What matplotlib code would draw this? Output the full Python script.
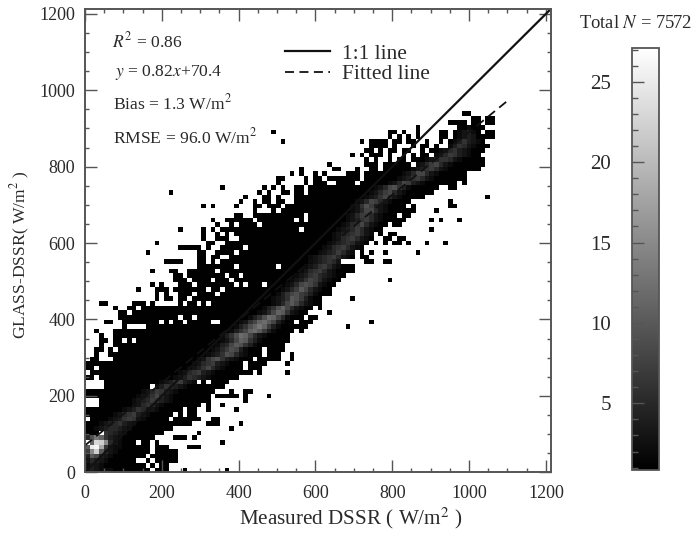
import numpy as np
import matplotlib
matplotlib.use("Agg")
import matplotlib.pyplot as plt
from matplotlib.ticker import MultipleLocator

plt.rcParams['font.family'] = ['Liberation Serif', 'DejaVu Serif']
plt.rcParams['mathtext.fontset'] = 'stix'

N_BINS = 100
BIN_WIDTH = 12.12
# occupied bins, bottom row first (column ranges)
OCCUPIED = """0-13,15-17,21,30
0-12,14,16-17
0-10,13,15-19
0-12,14-19
0-13,15-19
0-13,15-17,22-24
1-10,12-13,15,29
0-14,19-21,23
0-2,4-16,24
0-18,31
0-22,26-28,33
1-17,19-24,27-28
0-18,20,22-23
0-20,22-23,26,32
3-24,26,29
3-26,34
0-26,28-32,34,39
0-27,31,34-35
4-13,15-29
4-23,25,27-30
0-1,3-32
1-35,37,43
0-1,3-33,35-37
0-33,35-38,43
1-2,6-35,37-41,44
2,5-37,39-41,44
2-3,5,7-37,39-42
3,6-42
3-4,6-7,9,11-43
3,6-43
2,6-44,46
8,13-47,56
4-5,8-15,17,19-20,22-26,29-44,46-48,61
7-19,21-22,24-46,48-49
7-8,10-47,52
6,9-10,12-48,50
3-4,10-12,14,20,22-23,25,27-50
15,17-18,20-21,23-50,57
15,17,20-22,24-27,29-52
11,15-17,19-25,27-28,30-52
14,16,20-22,24-31,33,35-37,39-53
19-21,23-26,28-30,32-54,65
19-20,22-29,31-32,34-55
14,18-19,22-27,29-57
24-31,33-40,42-57
17-20,24-25,27,29-54,60-61,64-65
24-25,27-28,31-57,59-60
13,24-25,28-31,33-57,59,61,64,71
20-24,26,29-33,35-59
15,26-27,30-60,62,64,66-67,69,73,77
25,28-30,33-61,64-65,67-68
25,28,30,32-61,63,65-66
20,25,27,29-45,47-63,74
28,31,33-36,38-64,66-67
27,30-35,37-44,46,48-68,74,76,80
32-33,36-46,48-66,68-69
36,40,42-70,75
25,27,32,36-37,39-41,43-68,70,78-79
33,36,38-39,41-42,45-69,78
34,38-39,41,45-72,86
18,37,39,42-43,45-46,48-74
29,38,40,42,45-46,48-75,78-79
41,47,49-51,54-57,59-79,81
41-42,47,49-50,52-58,60-81
44,46,49,51,56-58,60-81
46,53-54,58,61-62,64-84
52,60-62,64-69,71-85
60,62,65,67-68,70-85
57,59,61-63,65,68,70,72-73,75-84
60-61,63,65-66,68-69,72,74-85
61-64,66,70,72-73,75,78-86
42,59,61-64,66-67,69-70,73,76,78-85
65,67,69,71,76-77,79-87
40,65-66,68,71,76-77,79-84,86-87
71,80-85
78-81,83-84,86-87
83-84,86-87
81-82""".split("\n")

# denser ridge counts read from the grey level: (first column, base-36 counts), bottom row first
RIDGE = [
 (0,"34322211"),(0,"24321"),(0,"3543211"),(0,"4a8432"),(0,"7fma5321"),(0,"apqi6322"),
 (1,"bnmf5321"),(0,"59db6432"),(4,"654321"),(2,"2345543211"),(3,"234564321"),(5,"2346763211"),
 (6,"235674321"),(8,"234653321"),(10,"2356532"),(10,"2345764321"),(11,"2346853211"),(12,"2357643211"),
 (15,"24654321"),(16,"2346743211"),(19,"2346543211"),(20,"2356743211"),(22,"2346853211"),(23,"2356743211"),
 (24,"2368964321"),(26,"2346985321"),(27,"235798421"),(28,"2458a96421"),(29,"2358ba6421"),(29,"2469cb85321"),
 (31,"2468bca7421"),(32,"2469bdb7421"),(33,"2368bca8421"),(35,"2469cb8521"),(37,"2358ba6321"),(38,"2469b85321"),
 (40,"2358a85321"),(40,"2346a97421"),(41,"2468976421"),(42,"2357a85321"),(43,"2358986321"),(44,"2346875321"),
 (45,"2346754321"),(46,"235675321"),(47,"234675321"),(48,"234565321"),(48,"2345675321"),(50,"234575321"),
 (51,"235675321"),(52,"234565321"),(53,"235675321"),(53,"2345675321"),(54,"234575321"),(55,"235685321"),
 (56,"234675321"),(56,"235775321"),(57,"235885321"),(57,"236974321"),(58,"235875321"),(60,"234685321"),
 (61,"235785321"),(62,"235896421"),(65,"235874321"),(67,"234675321"),(68,"235885321"),(70,"234675321"),
 (71,"235785321"),(73,"234665321"),(75,"235764321"),(76,"23564321"),(78,"2465321"),(79,"2464321"),
 (80,"23431"),(80,"2342"),(81,"121"),
]

LINE_1TO1_X = [0, 1212]
LINE_1TO1_Y = [0, 1212]
FIT_X = [0, 1100]
FIT_Y = [70.4, 972.4]
STATS = [r"$R^2$ = 0.86", r"$y$ = 0.82$x$+70.4", "Bias = 1.3 W/m$^2$", "RMSE = 96.0 W/m$^2$"]
XTICKS = [0, 200, 400, 600, 800, 1000, 1200]
CBAR_TICKS = [5, 10, 15, 20, 25]

counts = np.full((N_BINS, N_BINS), np.nan)
for j, line in enumerate(OCCUPIED):
    for part in line.split(","):
        a, _, b = part.partition("-")
        counts[j, int(a):int(b or a) + 1] = 1
for j, (start, vals) in enumerate(RIDGE):
    for k, c in enumerate(vals):
        if not np.isnan(counts[j, start + k]):
            counts[j, start + k] = int(c, 36)
edges = np.arange(N_BINS + 1) * BIN_WIDTH

W, H = 693, 534
fig = plt.figure(figsize=(W / 100, H / 100), dpi=100)
ax = fig.add_axes([85 / W, 1 - 472.3 / H, 465.5 / W, 463 / H])
cmap = plt.get_cmap('gray').copy()
cmap.set_bad('white')
mesh = ax.pcolormesh(edges, edges, np.ma.masked_invalid(counts), cmap=cmap, vmin=0.85, vmax=27.1)

c_txt = '#2a2a2a'
c_ax = '#555555'
ax.plot(LINE_1TO1_X, LINE_1TO1_Y, color='#111111', lw=1.6, label='1:1 line')
ax.plot(FIT_X, FIT_Y, color='#111111', lw=1.3, dashes=(5, 3), label='Fitted line')
ax.set_xlim(0, 1212)
ax.set_ylim(0, 1212)
ax.set_xticks(XTICKS)
ax.set_yticks(XTICKS)
ax.xaxis.set_minor_locator(MultipleLocator(50))
ax.yaxis.set_minor_locator(MultipleLocator(50))
ax.tick_params(which='major', direction='in', length=8.5, width=1, top=True, right=True,
               color=c_ax, labelsize=13, labelcolor=c_txt)
ax.tick_params(axis='x', which='major', pad=9)
ax.tick_params(axis='y', which='major', pad=7)
ax.tick_params(which='minor', direction='in', length=3, width=1, top=True, right=True, color=c_ax)
for s in ax.spines.values():
    s.set_linewidth(1.4)
    s.set_color(c_ax)
ax.set_xlabel("Measured DSSR ( W/m$^2$ )", fontsize=15.2, color=c_txt, x=0.57, labelpad=3)
ax.set_ylabel("GLASS-DSSR( W/m$^2$ )", fontsize=12.6, color=c_txt, y=0.47, labelpad=5)

tx = [0.058, 0.064, 0.06, 0.06]
ty = [1128, 1047, 966, 877]
for x, y, s in zip(tx, ty, STATS):
    ax.text(x, y, s, transform=ax.get_yaxis_transform(), fontsize=12.6, color=c_txt, va='center')

ax.legend(loc='upper left', bbox_to_anchor=(0.3885, 0.967), frameon=False, fontsize=15.5,
          handlelength=2.1, handletextpad=0.56, labelspacing=0.0, labelcolor=c_txt)

cax = fig.add_axes([632 / W, 1 - 470 / H, 26.5 / W, 422 / H])
cb = fig.colorbar(mesh, cax=cax)
cb.set_ticks(CBAR_TICKS)
cb.ax.yaxis.set_ticks_position('left')
cb.ax.yaxis.set_minor_locator(MultipleLocator(1))
cb.ax.tick_params(which='major', direction='in', length=8.5, width=1, color='#555555',
                  labelsize=15, labelcolor=c_txt, pad=15)
cb.ax.tick_params(which='minor', direction='in', length=4, width=1, color='#555555')
cb.outline.set_linewidth(1.3)
cb.outline.set_edgecolor(c_ax)
fig.text(636 / W, 1 - 24 / H, "Total $N$ = 7572", fontsize=13.4, color=c_txt, ha='center', va='center')

fig.savefig('out.png', dpi=100)
